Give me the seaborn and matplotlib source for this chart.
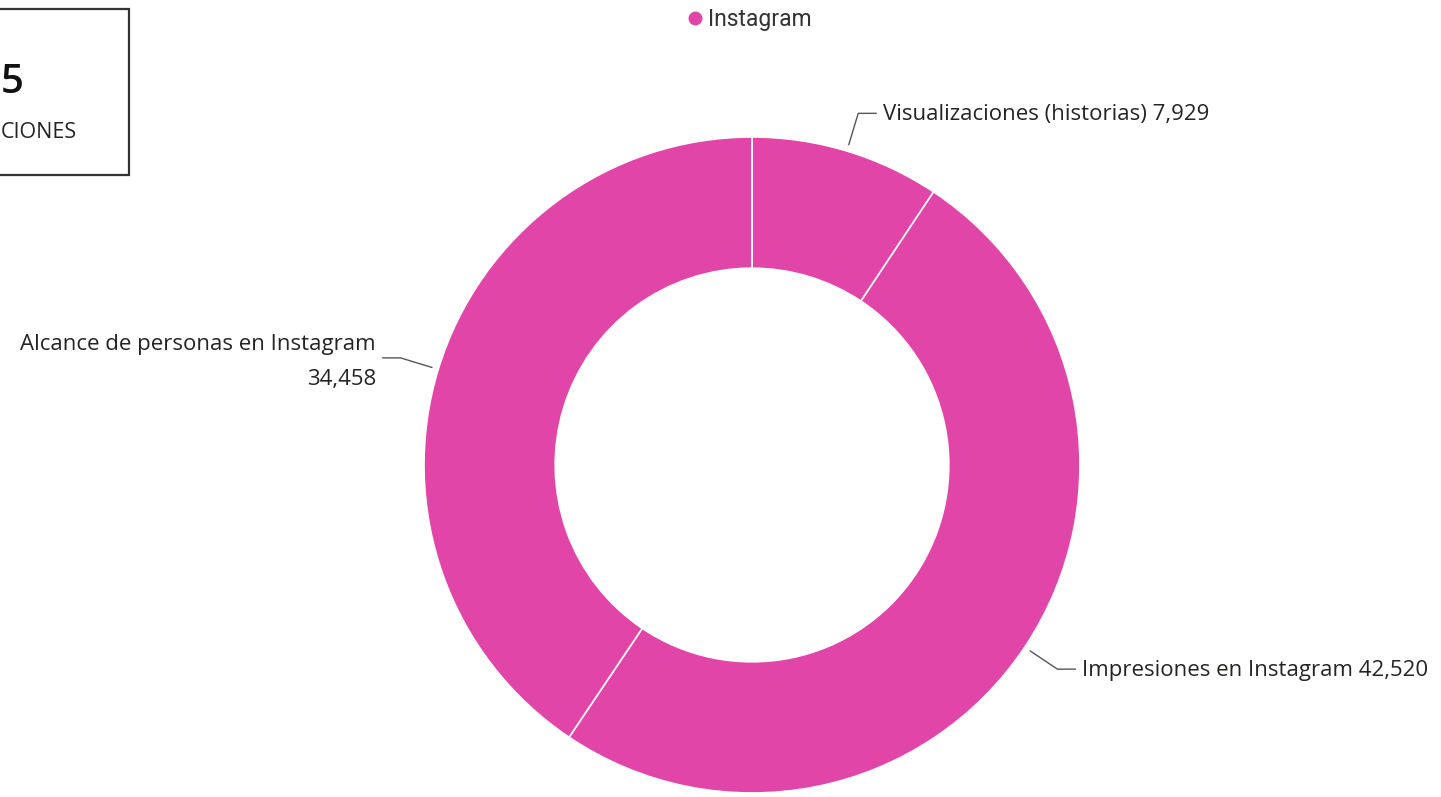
"""
Dona de métricas de Instagram con etiquetas externas.
"""
import numpy as np
import matplotlib.pyplot as plt
import seaborn as sns
from matplotlib.lines import Line2D
from matplotlib.patches import Rectangle

sns.set_theme(style="white")
plt.rcParams["font.family"] = ["Open Sans", "DejaVu Sans"]

PINK = "#E045A7"

categorias = ["Visualizaciones (historias)", "Impresiones en Instagram", "Alcance de personas en Instagram"]
valores = [7929, 42520, 34458]
etiquetas = ["Visualizaciones (historias) 7,929",
             "Impresiones en Instagram 42,520",
             "Alcance de personas en Instagram\n34,458"]
serie = "Instagram"

W, H = 1441, 797
CX, CY, R = 752, 465, 328  # centro y radio en px

fig = plt.figure(figsize=(W / 100, H / 100), dpi=100)
ax = fig.add_axes([0, 0, 1, 1])

wedges, _ = ax.pie(valores, startangle=90, counterclock=False,
                   colors=[PINK] * len(valores),
                   wedgeprops=dict(width=0.4, edgecolor="white", linewidth=1.2))
ax.set_xlim(-CX / R, (W - CX) / R)
ax.set_ylim(-(H - CY) / R, CY / R)
ax.set_aspect("equal")
ax.axis("off")

# etiquetas con líneas guía
for w, txt in zip(wedges, etiquetas):
    ang = np.deg2rad((w.theta1 + w.theta2) / 2)
    x0, y0 = 1.02 * np.cos(ang), 1.02 * np.sin(ang)
    x1, y1 = 1.12 * np.cos(ang), 1.12 * np.sin(ang)
    side = 1 if x1 > 0 else -1
    x2 = x1 + side * 0.055
    ax.plot([x0, x1, x2], [y0, y1, y1], color="#555555", lw=1)
    ax.text(x2 + side * 0.02, y1 + (-0.012 if side < 0 else -0.005), txt,
            ha="left" if side > 0 else "right", va="center",
            fontsize=16, color="#252423", linespacing=1.9)

# leyenda
handle = Line2D([], [], marker="o", linestyle="", color=PINK, markersize=9)
fig.legend([handle], [serie], loc="upper center", bbox_to_anchor=(0.5195, 1.016),
           frameon=False, handlelength=0.8, handletextpad=0.15,
           prop=dict(family="Roboto", size=16.5), labelcolor="#333333")

# tarjeta recortada arriba a la izquierda (la imagen original está cortada)
fig.patches.append(Rectangle((-5 / W, 1 - 175 / H), 134 / W, 166 / H,
                             transform=fig.transFigure, fill=False,
                             edgecolor="#333333", linewidth=1.6))
fig.text(1 / W, 1 - 83 / H, "5", ha="left", va="center", fontsize=29,
         color="#111111", fontweight="semibold")
fig.text(1 / W, 1 - 132 / H, "CIONES", ha="left", va="center", fontsize=15.5,
         color="#252423")

fig.savefig("out.png", dpi=100, facecolor="white")
